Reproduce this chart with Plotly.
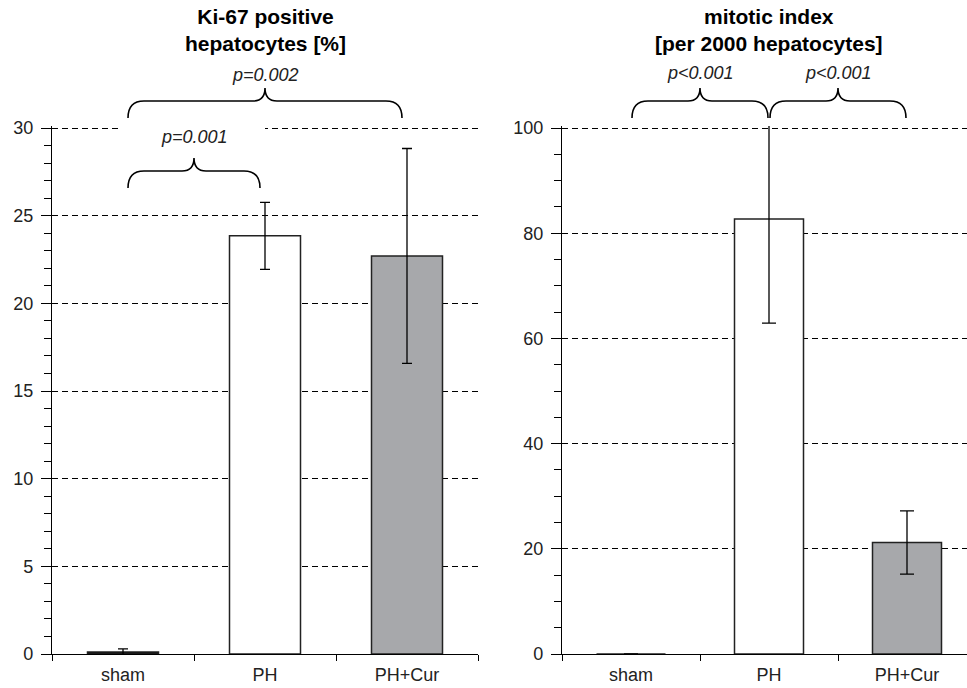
import plotly.graph_objects as go

# ---------------- data ----------------
categories = ["sham", "PH", "PH+Cur"]
ki67_values = [0.12, 23.85, 22.7]
ki67_errors = [0.17, 1.91, 6.13]
mitotic_values = [0.0, 82.7, 21.2]
mitotic_errors = [0.0, 19.8, 6.0]
ki67_ticks = [0, 5, 10, 15, 20, 25, 30]
mitotic_ticks = [0, 20, 40, 60, 80, 100]
ki67_title = "Ki-67 positive<br>hepatocytes [%]"
mitotic_title = "mitotic index<br>[per 2000 hepatocytes]"
ki67_comparisons = [(0, 1, "p=0.001"), (0, 2, "p=0.002")]
mitotic_comparisons = [(0, 1, "p<0.001"), (1, 2, "p<0.001")]

# ---------------- styles / layout ----------------
bar_colors = ["#000000", "#ffffff", "#a7a8ab"]
W, H = 967, 688
FONT = "Liberation Sans, Arial, sans-serif"
TOP_PAD = 2  # px of plot area above the highest tick so its gridline is drawn

panels = {
    "left": dict(px0=52, px1=478, xr=(-0.5, 2.5), py0=654, pyt=128, ymax=30,
                 inset=5, brace_base=[188, 118], text_y=[137, 75], cap=5,
                 minor=1, xa="x", ya="y"),
    "right": dict(px0=562, px1=967, xr=(-0.5, -0.5 + 405 / 138), py0=654, pyt=128,
                  ymax=100, inset=1, brace_base=[118, 118], text_y=[73, 73], cap=7,
                  minor=5, xa="x2", ya="y2"),
}
for p in panels.values():
    per_px = p["ymax"] / (p["py0"] - p["pyt"])
    p["yr"] = (0, p["ymax"] + TOP_PAD * per_px)
    p["py1"] = p["pyt"] - TOP_PAD


def xpx(p, v):
    return p["px0"] + (v - p["xr"][0]) / (p["xr"][1] - p["xr"][0]) * (p["px1"] - p["px0"])


def brace_path(xl, xr_, yb):
    # pixel coordinates -> paper
    ym, yt = yb - 17, yb - 30
    xm = (xl + xr_) / 2
    r, r2 = 16, 12

    def P(x, y):
        return f"{x / W:.5f},{1 - y / H:.5f}"

    return (f"M{P(xl, yb)} Q{P(xl, ym)} {P(xl + r, ym)} L{P(xm - r2, ym)} "
            f"Q{P(xm, ym)} {P(xm, yt)} Q{P(xm, ym)} {P(xm + r2, ym)} "
            f"L{P(xr_ - r, ym)} Q{P(xr_, ym)} {P(xr_, yb)}")


fig = go.Figure()

for key, vals, errs in [("left", ki67_values, ki67_errors), ("right", mitotic_values, mitotic_errors)]:
    p = panels[key]
    fig.add_trace(go.Bar(
        x=categories, y=vals, width=0.5,
        marker=dict(color=bar_colors, line=dict(color="#222222", width=1.5)),
        error_y=dict(type="data", array=errs, visible=True, color="#000000",
                     thickness=1.3, width=p["cap"]),
        xaxis=p["xa"], yaxis=p["ya"], showlegend=False, hoverinfo="skip",
    ))

axis_common_x = dict(type="category", showline=True, linecolor="#000000", linewidth=1.3,
                     ticks="outside", tickson="boundaries", ticklen=6, tickcolor="#000000",
                     tickwidth=1.3, showgrid=False, zeroline=False, automargin=False,
                     ticklabelstandoff=4,
                     tickfont=dict(family=FONT, size=18, color="#222222"))


def yaxis_cfg(p, ticks):
    return dict(range=list(p["yr"]), tickvals=ticks, showline=True, linecolor="#000000",
                linewidth=1.3, ticks="outside", ticklen=10, tickwidth=1.3,
                tickcolor="#000000", showgrid=True, gridcolor="#000000", gridwidth=1,
                griddash="6px,4px", zeroline=False, automargin=False,
                ticklabelstandoff=4,
                tickfont=dict(family=FONT, size=18, color="#222222"),
                domain=[1 - p["py0"] / H, 1 - p["py1"] / H],
                minor=dict(dtick=p["minor"], ticks="outside", ticklen=7, tickwidth=1.3,
                           tickcolor="#000000", showgrid=False))


pl, pr = panels["left"], panels["right"]
fig.update_layout(
    width=W, height=H, autosize=False,
    margin=dict(l=0, r=0, t=0, b=0, pad=0, autoexpand=False),
    paper_bgcolor="white", plot_bgcolor="white",
    xaxis=dict(axis_common_x, domain=[pl["px0"] / W, pl["px1"] / W], range=list(pl["xr"]), anchor="y"),
    yaxis=dict(yaxis_cfg(pl, ki67_ticks), anchor="x"),
    xaxis2=dict(axis_common_x, domain=[pr["px0"] / W, pr["px1"] / W], range=list(pr["xr"]), anchor="y2"),
    yaxis2=dict(yaxis_cfg(pr, mitotic_ticks), anchor="x2"),
)

shapes = []
annotations = []

# white box hiding part of the top gridline in the left panel
shapes.append(dict(type="rect", xref="paper", yref="paper", layer="above",
                   x0=118 / W, x1=265 / W, y0=1 - 134 / H, y1=1 - 122 / H,
                   fillcolor="white", line=dict(width=0)))

for key, comps in [("left", ki67_comparisons), ("right", mitotic_comparisons)]:
    p = panels[key]
    for i, (a, b, label) in enumerate(comps):
        xl = xpx(p, a) + p["inset"]
        xr_ = xpx(p, b) - p["inset"]
        yb = p["brace_base"][i]
        shapes.append(dict(type="path", xref="paper", yref="paper", layer="above",
                           path=brace_path(xl, xr_, yb),
                           line=dict(color="#000000", width=1.6)))
        annotations.append(dict(xref="paper", yref="paper", x=(xl + xr_) / 2 / W,
                                y=1 - p["text_y"][i] / H, text=label, showarrow=False,
                                xanchor="center", yanchor="middle",
                                font=dict(family=FONT, size=18, color="#222222", style="italic")))

for key, title in [("left", ki67_title), ("right", mitotic_title)]:
    p = panels[key]
    annotations.append(dict(xref="paper", yref="paper", x=xpx(p, 1) / W, y=1 - 30 / H,
                            text=title, showarrow=False, xanchor="center", yanchor="middle",
                            font=dict(family=FONT, size=21, color="#000000", weight="bold")))

fig.update_layout(shapes=shapes, annotations=annotations)

fig.write_html(
    "out.html",
    config={"displayModeBar": False},
    post_script="document.body.style.margin='0';document.body.style.overflow='hidden';",
)
